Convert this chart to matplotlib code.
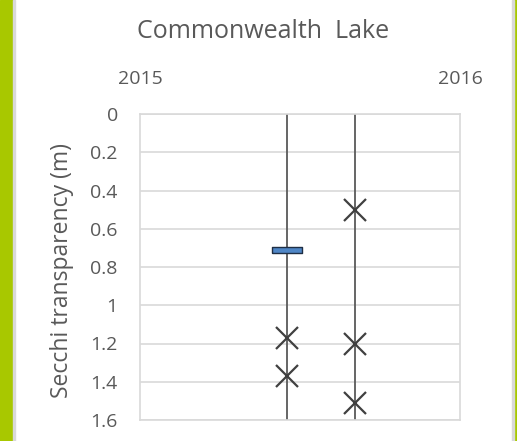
import matplotlib
matplotlib.use("Agg")
import matplotlib.pyplot as plt
from matplotlib.patches import Rectangle

# ---------- data ----------
years = [2015, 2016]
sample_dates = [2015.46, 2015.672]          # decimal year of each sampling visit
secchi_a = [1.17, 1.37]                       # readings on visit 1
secchi_b = [0.50, 1.20, 1.51]                 # readings on visit 2
mean_date = [2015.46]
mean_val = [0.71]                              # blue bar on visit 1
y_ticks = [0, 0.2, 0.4, 0.6, 0.8, 1, 1.2, 1.4, 1.6]
y_labels = ["0", "0.2", "0.4", "0.6", "0.8", "1", "1.2", "1.4", "1.6"]

GREY = "#595959"
plt.rcParams["font.family"] = ["Open Sans", "DejaVu Sans"]

fig = plt.figure(figsize=(5.17, 4.41), dpi=100)
fig.patch.set_facecolor("white")
# green side bars + thin grey edge
fig.add_artist(Rectangle((0, 0), 13/517, 1, transform=fig.transFigure, color="#a8c800", zorder=0))
fig.add_artist(Rectangle((13/517, 0), 1.5/517, 1, transform=fig.transFigure, color="#d9d9d9", zorder=0))
fig.add_artist(Rectangle((514/517, 0), 3/517, 1, transform=fig.transFigure, color="#a8c800", zorder=0))
fig.add_artist(Rectangle((512/517, 0), 1.5/517, 1, transform=fig.transFigure, color="#d9d9d9", zorder=0))

ax = fig.add_axes([140/517, 1 - 420/441, 320/517, 306/441])

# drop lines for each visit
for d in sample_dates:
    ax.plot([d, d], [0, 1.6], color=GREY, lw=1.3, zorder=2)

ax.plot([sample_dates[0]]*len(secchi_a), secchi_a, ls="none", marker="x",
        ms=16, mew=1.6, color="#404040", zorder=3)
ax.plot([sample_dates[1]]*len(secchi_b), secchi_b, ls="none", marker="x",
        ms=16, mew=1.6, color="#404040", zorder=3)

bar_marker = [(-3, -0.5), (3, -0.5), (3, 0.5), (-3, 0.5), (-3, -0.5)]
ax.plot(mean_date, mean_val, ls="none", marker=bar_marker, ms=22,
        mfc="#4f86c6", mec="#1f2f45", mew=1.0, zorder=4)

ax.set_xlim(years[0], years[1])
ax.set_ylim(1.6, 0)
ax.set_yticks(y_ticks)
ax.set_yticklabels(y_labels)
ax.set_xticks(years)
ax.set_xticklabels([str(y) for y in years])
ax.xaxis.tick_top()
ax.tick_params(axis="both", length=0, labelsize=14, colors=GREY)
ax.tick_params(axis="y", pad=16)
ax.tick_params(axis="x", pad=19)
ax.grid(axis="y", color="#d9d9d9", lw=1.2)
ax.set_axisbelow(True)
for s in ax.spines.values():
    s.set_color("#d9d9d9")
    s.set_linewidth(1.2)

ax.set_ylabel("Secchi transparency (m)", fontsize=16.5, color=GREY)
ax.yaxis.set_label_coords(-0.205, 0.49)
fig.text(263/517, 1 - 31/441, "Commonwealth  Lake", ha="center", va="center",
         fontsize=18, color=GREY)

fig.savefig("out.png", dpi=100)
